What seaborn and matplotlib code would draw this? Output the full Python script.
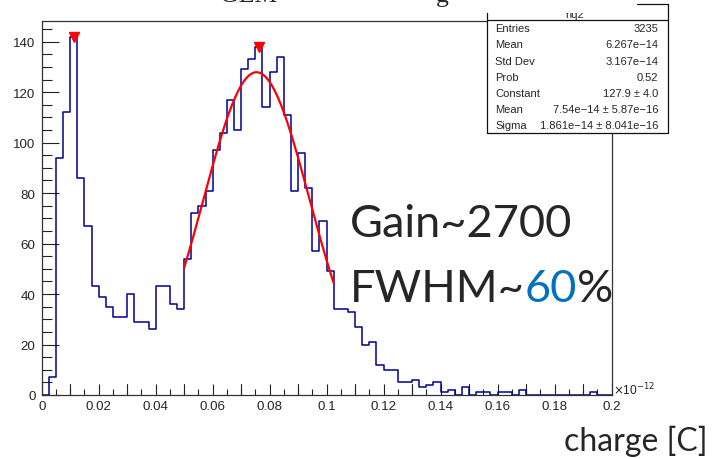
import numpy as np
import pandas as pd
import seaborn as sns
import matplotlib
matplotlib.use("Agg")
import matplotlib.pyplot as plt
from matplotlib.patches import Rectangle
from matplotlib.lines import Line2D
from matplotlib.ticker import FixedLocator, MultipleLocator

# ---------------- data ----------------
bin_width = 0.0025          # in units of 1e-12 C
n_bins = 80
x_range = (0.0, 0.2)
counts = [0, 7, 94, 112, 142, 86, 67, 43, 39, 35,
          31, 31, 40, 29, 29, 26, 43, 43, 36, 34,
          54, 72, 75, 81, 97, 104, 117, 105, 129, 133,
          138, 114, 128, 134, 111, 81, 96, 82, 57, 69,
          49, 34, 34, 33, 27, 20, 21, 12, 10, 10,
          5, 5, 6, 3, 4, 5, 1, 2, 0, 3,
          0, 1, 1, 0, 1, 1, 0, 2, 0, 0,
          0, 0, 0, 0, 0, 0, 0, 1, 0, 0]

fit_constant = 127.9
fit_mean = 0.0754       # 7.54e-14 C
fit_sigma = 0.01861     # 1.861e-14 C
fit_range = (0.05, 0.1025)

peak_x = [0.01125, 0.07625]
peak_y = [142, 138]

x_ticks = [0, 0.02, 0.04, 0.06, 0.08, 0.1, 0.12, 0.14, 0.16, 0.18, 0.2]
x_ticklabels = ["0", "0.02", "0.04", "0.06", "0.08", "0.1", "0.12", "0.14", "0.16", "0.18", "0.2"]
y_ticks = [0, 20, 40, 60, 80, 100, 120, 140]
y_ticklabels = ["0", "20", "40", "60", "80", "100", "120", "140"]

stat_labels = ["Entries", "Mean", "Std Dev", "Prob", "Constant", "Mean", "Sigma"]
stat_values = ["3235", "6.267e\u221214", "3.167e\u221214", "0.52",
               "127.9 \u00b1 4.0", "7.54e\u221214 \u00b1 5.87e\u221216",
               "1.861e\u221214 \u00b1 8.041e\u221216"]

# ---------------- style ----------------
sns.set_style("white")
plt.rcParams["font.family"] = ["Liberation Sans", "DejaVu Sans"]

W, H = 712, 460
fig = plt.figure(figsize=(W / 100, H / 100), dpi=100)

def fx(px):
    return px / W

def fy(py):
    return 1 - py / H

ax_left, ax_right, ax_top, ax_bot = 41.7, 611.5, 22.0, 396.0
ax = fig.add_axes([fx(ax_left), fy(ax_bot), fx(ax_right) - fx(ax_left), fy(ax_top) - fy(ax_bot)])

centers = x_range[0] + (np.arange(n_bins) + 0.5) * bin_width
df = pd.DataFrame({"charge": centers, "count": counts})

sns.histplot(data=df, x="charge", weights="count", bins=n_bins, binrange=x_range,
             element="step", fill=False, color="#000099", linewidth=1.1, ax=ax)

# Gaussian fit curve (from fit parameters)
xf = np.linspace(fit_range[0], fit_range[1], 200)
yf = fit_constant * np.exp(-0.5 * ((xf - fit_mean) / fit_sigma) ** 2)
sns.lineplot(x=xf, y=yf, color="#ff0000", linewidth=1.6, ax=ax, sort=False)

# peak markers
ax.plot(peak_x, peak_y, linestyle="none", marker="v", color="#ff0000", ms=7.5, zorder=5)

ax.set_xlim(*x_range)
ax.set_ylim(0, 148.2)
ax.set_xlabel("")
ax.set_ylabel("")

for s in ax.spines.values():
    s.set_color("#333333")
    s.set_linewidth(0.9)

# y ticks
ax.yaxis.set_major_locator(FixedLocator(y_ticks))
ax.set_yticklabels(y_ticklabels)
ax.yaxis.set_minor_locator(MultipleLocator(5))
ax.tick_params(axis="y", which="major", direction="in", length=12.5, width=0.8,
               color="#222222", left=True, right=False, labelsize=9.6, pad=4.5)
ax.tick_params(axis="y", which="minor", direction="in", length=7.0, width=0.8,
               color="#222222", left=True, right=False)

# x ticks: labels every 0.02, tall ticks every 0.01, short every 0.005
ax.xaxis.set_major_locator(FixedLocator(x_ticks))
ax.set_xticklabels(x_ticklabels)
ax.xaxis.set_minor_locator(MultipleLocator(0.005))
ax.tick_params(axis="x", which="major", direction="in", length=8.0, width=0.8,
               color="#222222", bottom=True, top=False, labelsize=9.6, pad=3.8)
ax.tick_params(axis="x", which="minor", direction="in", length=4.3, width=0.8,
               color="#222222", bottom=True, top=False)
# medium ticks at odd 0.01 positions
for xv in np.arange(0.01, 0.2, 0.02):
    ax.plot([xv, xv], [0, 8.0 / 2.524 * (100 / 72)], color="#222222", lw=0.8,
            clip_on=False, zorder=1)

# x10^-12 exponent
fig.text(fx(613), fy(395), r"$\times$10$^{-12}$", fontsize=8.6, ha="left", va="baseline",
         color="#222222")

# ---------------- stats box ----------------
bx0, bx1 = 486.7, 668.3
by_bot, by_sep, by_top_right, by_top_left = 134.0, 21.0, 5.0, 14.0
lc = "#111111"
lw = 0.9
fig.add_artist(Rectangle((fx(bx0), fy(by_bot)), fx(bx1) - fx(bx0), fy(by_sep) - fy(by_bot),
                         transform=fig.transFigure, facecolor="white", edgecolor="none", zorder=10))
for (x0, y0, x1, y1) in [(bx0, by_bot, bx1, by_bot), (bx0, by_sep, bx1, by_sep),
                         (bx0, by_bot, bx0, by_top_left), (bx1, by_bot, bx1, by_top_right),
                         (636.7, by_top_right, bx1, by_top_right)]:
    fig.add_artist(Line2D([fx(x0), fx(x1)], [fy(y0), fy(y1)], transform=fig.transFigure,
                          color=lc, lw=lw, zorder=11))
row_y0, row_dy = 29.3, 16.2
for i, (lab, val) in enumerate(zip(stat_labels, stat_values)):
    yy = row_y0 + i * row_dy
    fig.text(fx(495), fy(yy), lab, fontsize=8.0, ha="left", va="center", zorder=12)
    fig.text(fx(658.5), fy(yy), val, fontsize=8.0, ha="right", va="center", zorder=12)
# cropped header name
hdr = fig.text(fx(575), fy(17.5), "hq2", fontsize=8.0, ha="center", va="baseline", zorder=12)
clip = Rectangle((fx(bx0), fy(by_sep)), fx(bx1) - fx(bx0), fy(13.5) - fy(by_sep),
                 transform=fig.transFigure)
hdr.set_clip_path(clip)

# cropped title (only bottom visible)
fig.text(fx(220), fy(2.0), "GEM", family=["Liberation Serif", "DejaVu Serif"], fontsize=18.5,
         ha="left", va="baseline")
fig.text(fx(436), fy(2.0), "g", family=["Liberation Serif", "DejaVu Serif"], fontsize=18.5,
         ha="left", va="baseline")

# ---------------- slide annotations ----------------
big = ["Lato", "DejaVu Sans"]
fs_big = 32.5
fig.text(fx(350), fy(236.7), "Gain~2700", family=big, fontsize=fs_big, ha="left", va="baseline")
renderer = fig.canvas.get_renderer()
t1 = fig.text(fx(350), fy(301.7), "FWHM~", family=big, fontsize=fs_big, ha="left", va="baseline")
bb = t1.get_window_extent(renderer)
t2 = fig.text(bb.x1 / W, fy(301.7), "60", family=big, fontsize=fs_big, ha="left", va="baseline",
              color="#0070C0")
bb2 = t2.get_window_extent(renderer)
fig.text(bb2.x1 / W, fy(301.7), "%", family=big, fontsize=fs_big, ha="left", va="baseline")

fig.text(fx(708), fy(451), "charge [C]", family=big, fontsize=23, ha="right", va="baseline")

fig.savefig("out.png", dpi=100)
